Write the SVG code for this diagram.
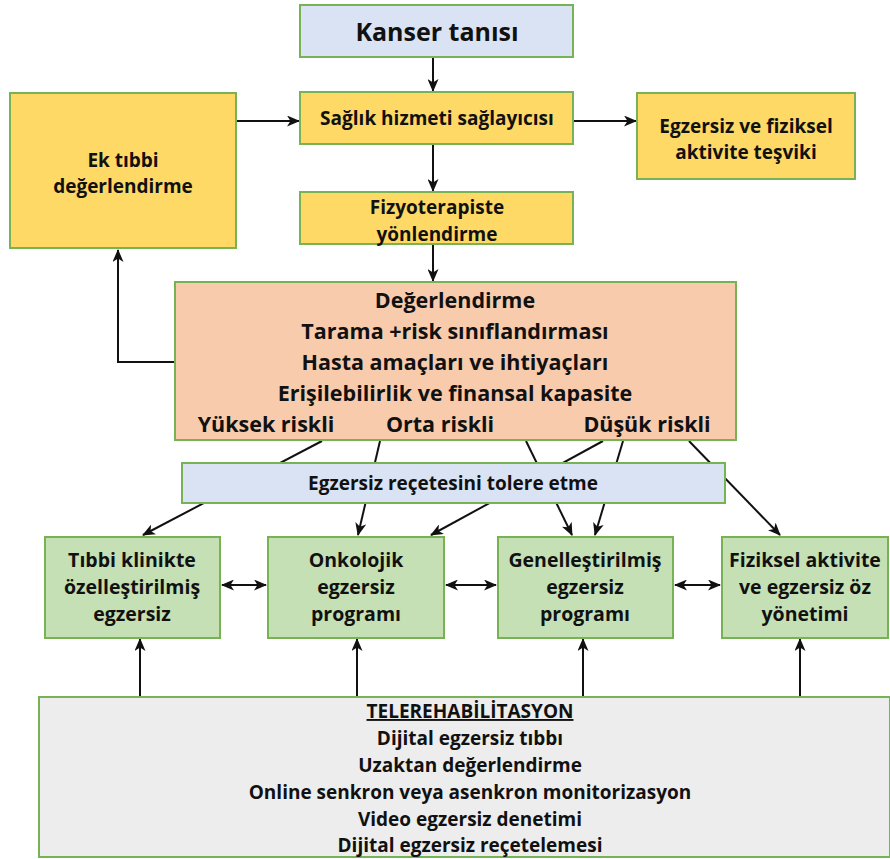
<svg xmlns="http://www.w3.org/2000/svg" width="890" height="859" viewBox="0 0 890 859">
<style>
.box{stroke:#77b255;stroke-width:2}
.blue{fill:#dae3f3}.yel{fill:#ffd966}.sal{fill:#f8cbad}.grn{fill:#c5e0b4}.gry{fill:#ededed}
text{font-family:"Open Sans","Noto Sans","DejaVu Sans",sans-serif;font-weight:700;fill:#111;text-anchor:middle}
.t18{font-size:19px}.t19{font-size:19px}.t195{font-size:19.5px}.t21{font-size:21.5px}.t25{font-size:25px}
.ar{stroke:#111;stroke-width:2;fill:none;marker-end:url(#ah)}
.ar2{stroke:#111;stroke-width:2;fill:none;marker-end:url(#ah);marker-start:url(#as)}
</style>
<defs>
<marker id="ah" viewBox="0 0 13 11" refX="12" refY="5.5" markerWidth="13" markerHeight="11" markerUnits="userSpaceOnUse" orient="auto">
<path d="M0,0 L13,5.5 L0,11 L3.5,5.5 Z" fill="#111"/>
</marker>
<marker id="as" viewBox="0 0 13 11" refX="1" refY="5.5" markerWidth="13" markerHeight="11" markerUnits="userSpaceOnUse" orient="auto">
<path d="M13,0 L0,5.5 L13,11 L9.5,5.5 Z" fill="#111"/>
</marker>
</defs>
<g id="connectors">
<line class="ar" x1="433" y1="57" x2="433" y2="91"/>
<line class="ar" x1="433" y1="144" x2="433" y2="191"/>
<line class="ar" x1="433" y1="244" x2="433" y2="281"/>
<line class="ar" x1="236" y1="121" x2="299" y2="121"/>
<line class="ar" x1="573" y1="121" x2="636" y2="121"/>
<polyline class="ar" points="175,362 118,362 118,250"/>
<line class="ar" x1="322" y1="441" x2="143" y2="535"/>
<line class="ar" x1="380" y1="441" x2="358" y2="535"/>
<line class="ar" x1="526" y1="441" x2="572" y2="535"/>
<line class="ar" x1="603" y1="441" x2="431" y2="535"/>
<line class="ar" x1="623" y1="441" x2="595" y2="535"/>
<line class="ar" x1="689" y1="441" x2="780" y2="535"/>
<line class="ar2" x1="222" y1="585" x2="266" y2="585"/>
<line class="ar2" x1="446" y1="585" x2="496" y2="585"/>
<line class="ar2" x1="675" y1="585" x2="720" y2="585"/>
<line class="ar" x1="140" y1="697" x2="140" y2="639"/>
<line class="ar" x1="357" y1="697" x2="357" y2="639"/>
<line class="ar" x1="583" y1="697" x2="583" y2="639"/>
<line class="ar" x1="800" y1="697" x2="800" y2="639"/>
</g>
<g id="kanser">
<rect class="box blue" x="300" y="5" width="273" height="52"/>
<text class="t25" x="437" y="41">Kanser tanısı</text>
</g>
<g id="saglik">
<rect class="box yel" x="300" y="92" width="273" height="52"/>
<text class="t19" x="437" y="125">Sağlık hizmeti sağlayıcısı</text>
</g>
<g id="fizyo">
<rect class="box yel" x="300" y="192" width="273" height="52"/>
<text class="t19" x="437" y="214">Fizyoterapiste</text>
<text class="t19" x="437" y="241">yönlendirme</text>
</g>
<g id="ektibbi">
<rect class="box yel" x="10" y="93" width="226" height="155"/>
<text class="t19" x="123" y="167">Ek tıbbi</text>
<text class="t19" x="123" y="193">değerlendirme</text>
</g>
<g id="tesvik">
<rect class="box yel" x="637" y="93" width="218" height="86"/>
<text class="t19" x="746" y="133">Egzersiz ve fiziksel</text>
<text class="t19" x="746" y="159">aktivite teşviki</text>
</g>
<g id="degerlendirme">
<rect class="box sal" x="175" y="282" width="561" height="158"/>
<text class="t21" x="455" y="308">Değerlendirme</text>
<text class="t21" x="455" y="339">Tarama +risk sınıflandırması</text>
<text class="t21" x="455" y="370">Hasta amaçları ve ihtiyaçları</text>
<text class="t21" x="455" y="401">Erişilebilirlik ve finansal kapasite</text>
<text class="t21" x="266" y="432">Yüksek riskli</text>
<text class="t21" x="440" y="432">Orta riskli</text>
<text class="t21" x="647" y="432">Düşük riskli</text>
</g>
<g id="tolere">
<rect class="box blue" x="182" y="463" width="543" height="40"/>
<text class="t19" x="453" y="490">Egzersiz reçetesini tolere etme</text>
</g>
<g id="tibbi">
<rect class="box grn" x="45" y="537" width="175" height="101"/>
<text class="t195" x="132" y="567">Tıbbi klinikte</text>
<text class="t195" x="132" y="594">özelleştirilmiş</text>
<text class="t195" x="132" y="621">egzersiz</text>
</g>
<g id="onkolojik">
<rect class="box grn" x="268" y="537" width="176" height="101"/>
<text class="t195" x="356" y="567">Onkolojik</text>
<text class="t195" x="356" y="594">egzersiz</text>
<text class="t195" x="356" y="621">programı</text>
</g>
<g id="genel">
<rect class="box grn" x="498" y="537" width="175" height="101"/>
<text class="t195" x="585" y="567">Genelleştirilmiş</text>
<text class="t195" x="585" y="594">egzersiz</text>
<text class="t195" x="585" y="621">programı</text>
</g>
<g id="fiziksel">
<rect class="box grn" x="722" y="537" width="166" height="101"/>
<text class="t195" x="805" y="567">Fiziksel aktivite</text>
<text class="t195" x="805" y="594">ve egzersiz öz</text>
<text class="t195" x="805" y="621">yönetimi</text>
</g>
<g id="telerehab">
<rect class="box gry" x="39" y="697" width="851" height="160"/>
<text class="t18" x="470" y="718" text-decoration="underline">TELEREHABİLİTASYON</text>
<text class="t18" x="470" y="745">Dijital egzersiz tıbbı</text>
<text class="t18" x="470" y="772">Uzaktan değerlendirme</text>
<text class="t18" x="470" y="799">Online senkron veya asenkron monitorizasyon</text>
<text class="t18" x="470" y="826">Video egzersiz denetimi</text>
<text class="t18" x="470" y="852">Dijital egzersiz reçetelemesi</text>
</g>
</svg>
